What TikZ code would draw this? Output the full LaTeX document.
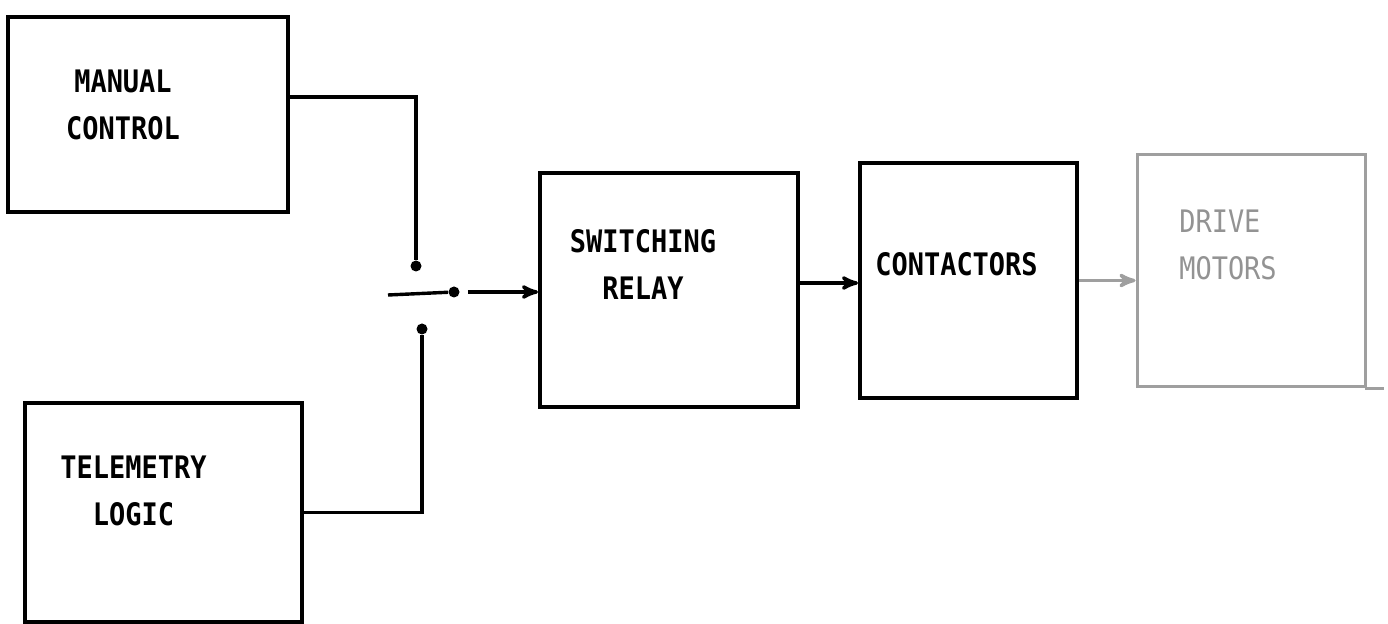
\documentclass[tikz,border=0pt]{standalone}
\usepackage{fontspec}
\setmonofont{DejaVu Sans Mono}[FakeStretch=0.87]
\usepackage{tikz}
\usetikzlibrary{arrows}

\begin{document}
\begin{tikzpicture}[x=0.5pt,y=-0.5pt,>=stealth',
                    box node/.style={rectangle,draw,line width=2pt,inner sep=0pt},
                    box text/.style={font=\ttfamily\bfseries\fontsize{15.5}{23.5}\selectfont,align=center},
                    wire/.style={line width=1.7pt},
                    dot/.style={circle,fill,inner sep=0pt,minimum size=5.5pt}]
  \useasboundingbox (0,0) rectangle (1388,624);

  \node[box node,minimum width=140pt,minimum height=97.5pt,
        label={[box text,xshift=-12.5pt,yshift=5pt]center:MANUAL\\CONTROL}] (manual) at (148,115) {};
  \node[box node,minimum width=138.5pt,minimum height=109.5pt,
        label={[box text,xshift=-15pt,yshift=11pt]center:TELEMETRY\\LOGIC}] (telemetry) at (163.5,512.5) {};
  \node[box node,minimum width=129pt,minimum height=117pt,
        label={[box text,xshift=-13pt,yshift=12.5pt]center:SWITCHING\\RELAY}] (relay) at (669,290) {};
  \node[box node,minimum width=108.5pt,minimum height=117.5pt,
        label={[box text,xshift=-6pt,yshift=8pt]center:CONTACTORS}] (contactors) at (968.5,280.5) {};
  \node[box node,draw=gray!75,line width=1.5pt,minimum width=114pt,minimum height=116pt,
        label={[box text,font=\ttfamily\fontsize{15.5}{23.5}\selectfont,text=gray!85,align=left,
                xshift=-11.5pt,yshift=13pt]center:DRIVE\\MOTORS}] (drive) at (1251,271) {};

  % switch contacts
  \node[dot] (upper) at (416,266) {};
  \node[dot] (lower) at (422,329) {};
  \node[dot] (blade) at (454,292) {};
  \coordinate (pivot) at (388,295);

  \draw[wire] ([yshift=9pt]manual.east) -| (upper);
  \draw[wire] (telemetry.east) -| (lower);
  \draw[wire] (pivot) -- (blade);
  \draw[wire,->] ([xshift=4pt]blade.east) -- (relay.west |- blade);

  \draw[wire,->] ([yshift=3.5pt]relay.east) -- ([yshift=3.5pt]relay.east -| contactors.west);
  \draw[wire,gray!75,->] (contactors.east) -- (contactors.east -| drive.west);
  \draw[gray!75,line width=1.5pt] ([xshift=-1pt]drive.south east) -- ++(19,0);
\end{tikzpicture}
\end{document}
